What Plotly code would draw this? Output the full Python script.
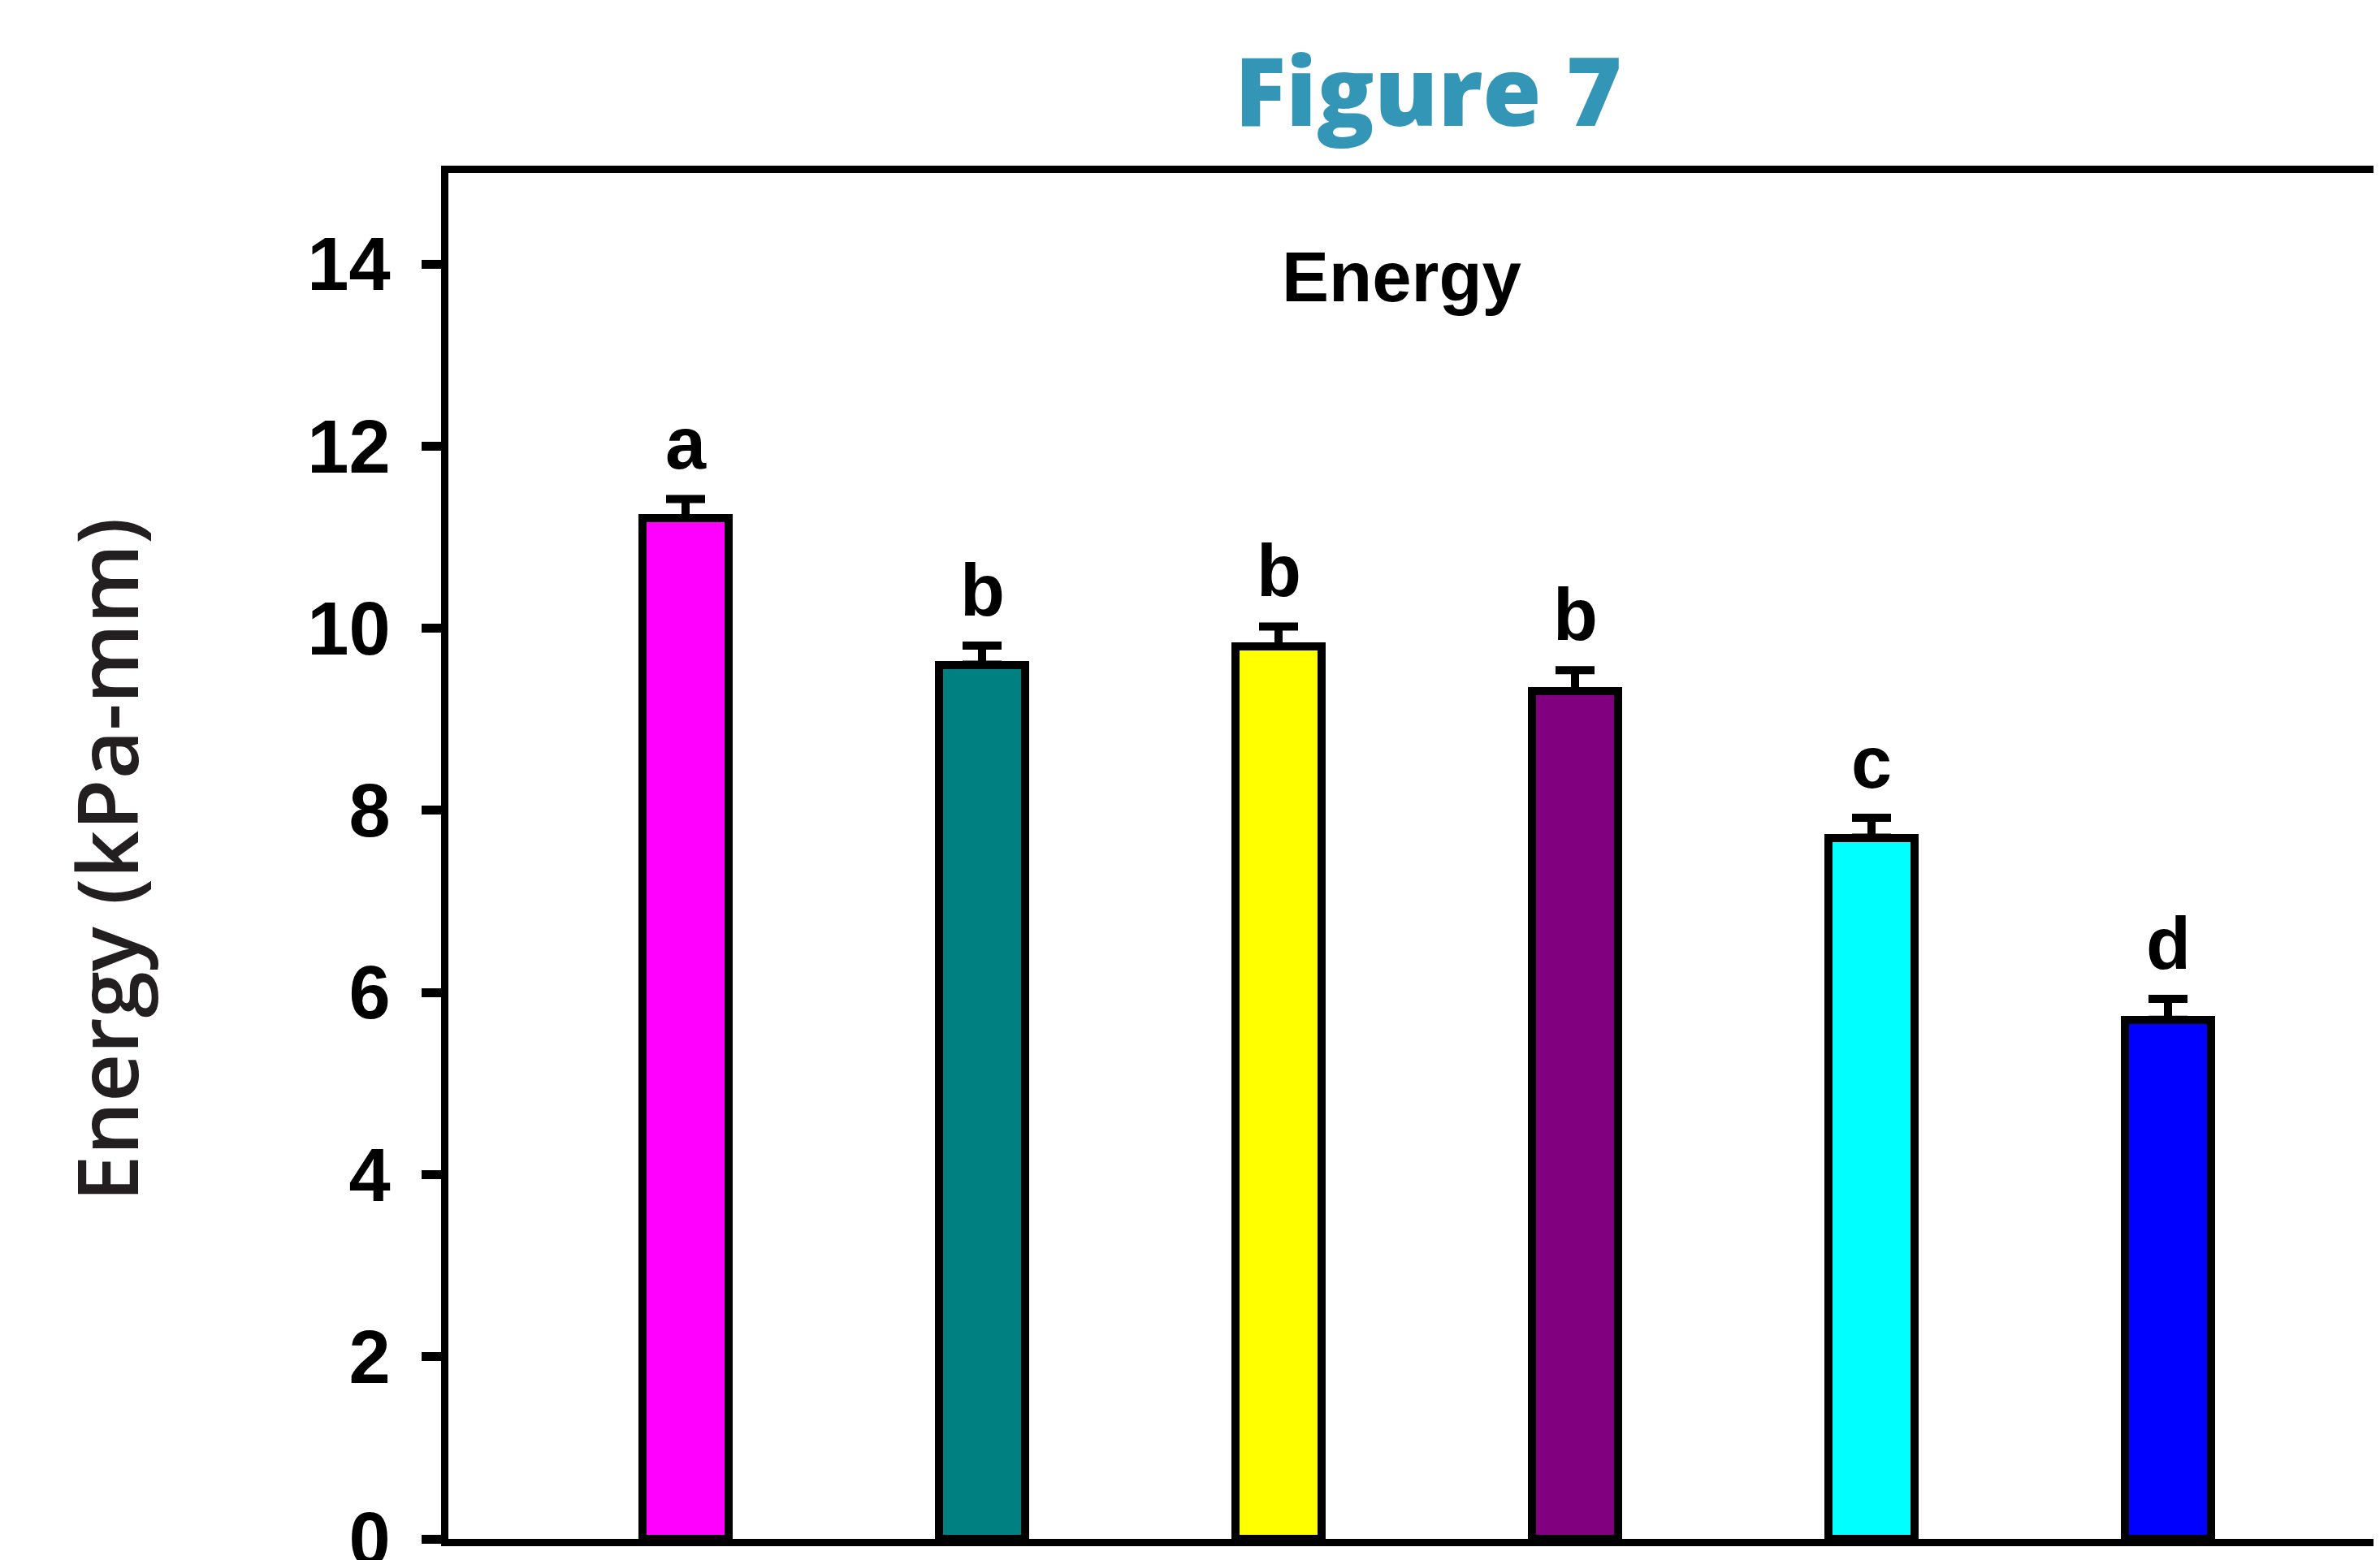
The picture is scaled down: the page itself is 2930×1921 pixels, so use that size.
import plotly.graph_objects as go

categories = ["G1", "G2", "G3", "G4", "G5", "G6"]
energy = [11.21, 9.60, 9.80, 9.31, 7.70, 5.70]
errors = [0.21, 0.21, 0.22, 0.23, 0.22, 0.23]
letters = ["a", "b", "b", "b", "c", "d"]
colors = ["#FF00FF", "#008080", "#FFFF00", "#800080", "#00FFFF", "#0000FF"]
y_ticks = [0, 2, 4, 6, 8, 10, 12, 14]

W, H = 2930, 1921
L, T = 544, 205
plot_h = 1682
plot_w = 2930 - 547
R = W - L - plot_w
B = H - T - plot_h
Y0 = T + plot_h

fig = go.Figure()
fig.add_trace(go.Bar(
    x=list(range(len(categories))),
    y=energy,
    width=0.29,
    marker=dict(color=colors, line=dict(color="black", width=10)),
    error_y=dict(type="data", array=errors, arrayminus=[0] * len(errors),
                 symmetric=False, color="black", thickness=10, width=24),
    showlegend=False,
))

for i, (v, e, t) in enumerate(zip(energy, errors, letters)):
    fig.add_annotation(x=i, y=v + e, text=t, showarrow=False,
                       xref="x", yref="y", yanchor="bottom", yshift=16,
                       font=dict(family="Liberation Sans", size=90, color="black", weight="bold"))

def px_x(px):
    return (px - L) / plot_w

def px_y(py):
    return (Y0 - py) / plot_h

fig.add_annotation(text="Figure 7", xref="paper", yref="paper",
                   x=px_x(1750), y=px_y(102),
                   xanchor="center", yanchor="middle", showarrow=False,
                   font=dict(family="Open Sans", size=117, color="#3396B7", weight=800))
fig.add_annotation(text="Energy", xref="paper", yref="paper",
                   x=px_x(1717), y=px_y(332),
                   xanchor="center", yanchor="middle", showarrow=False,
                   font=dict(family="Liberation Sans", size=87, color="black", weight="bold"))
fig.add_annotation(text="Energy (kPa-mm)", xref="paper", yref="paper",
                   x=px_x(122), y=px_y(1051), textangle=-90,
                   xanchor="center", yanchor="middle", showarrow=False,
                   font=dict(family="Open Sans", size=103, color="#231F20", weight=600))

fig.update_xaxes(range=[-0.8, plot_w / 365 - 0.8], showline=True, linewidth=9,
                 linecolor="black", mirror=True, showticklabels=False, ticks="",
                 showgrid=False, zeroline=False)
fig.update_yaxes(range=[0, 15], tickvals=y_ticks, ticks="outside", ticklen=24,
                 tickwidth=11, tickcolor="black", showline=True, linewidth=9,
                 linecolor="black", mirror=False, showgrid=False, zeroline=False,
                 ticklabelstandoff=20, ticklabeloverflow="allow",
                 tickfont=dict(family="Liberation Sans", size=92, color="black", weight="bold"))

fig.update_layout(width=W, height=H, margin=dict(l=L, r=R, t=T, b=B, autoexpand=False),
                  plot_bgcolor="white", paper_bgcolor="white", bargap=0)

fig.write_html("out.html")
